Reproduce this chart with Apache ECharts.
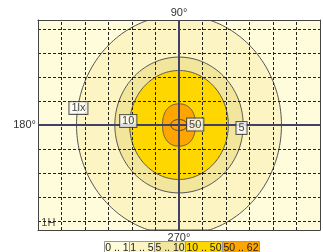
<!DOCTYPE html>
<html><head><meta charset="utf-8">
<script src="https://cdn.jsdelivr.net/npm/echarts@6/dist/echarts.min.js"></script>
<style>html,body{margin:0;padding:0;background:#fff}#c{width:323px;height:252px}</style>
</head><body><div id="c"></div>
<script>
// grid lines (grid cells)
const xGridLines = [-5, -4, -3, -2, -1, 1, 2, 3, 4, 5];
const yGridLines = [-4, -3, -2, -1, 1, 2, 3, 4];
// isolux contours: level (lx), semi-axes in grid cells, shape exponent
const contourLevels = [1, 5, 10, 50];
const contourSemiX = [4.36, 2.73, 2.10, 0.70];
const contourSemiY = [4.58, 2.83, 2.27, 0.88];
const contourExp = [2, 2, 2, 2.3];
// luminaire outline semi-axes
const lumSemi = [0.35, 0.23];
// contour labels
const labelTexts = ['1lx', '10', '50', '5'];
const labelX = [-4.28, -2.16, 0.69, 2.66];
const labelY = [0.71, 0.17, 0.02, -0.125];
// mounting height label
const heightText = '1H';
const heightPos = [-5.56, -4.08];
// direction labels
const dirTop = '90°', dirLeft = '180°', dirBottom = '270°';
// legend
const legendRanges = ['0 .. 1', '1 .. 5', '5 .. 10', '10 .. 50', '50 .. 62'];
const legendColors = ['#FFFCDC', '#FDF4C4', '#F2E69C', '#FFD700', '#FFA500'];

const FF = "'Liberation Sans Narrow', 'Liberation Sans', Arial, sans-serif";
const chart = echarts.init(document.getElementById('c'), null, {renderer: 'canvas'});

function shapePoints(api, sx, sy, e, coordSys) {
  const c = api.coord([0, 0]);
  const s = api.size([sx, sy]);
  const pts = [];
  const N = 200;
  for (let k = 0; k < N; k++) {
    const t = k / N * 2 * Math.PI;
    const ct = Math.cos(t), st = Math.sin(t);
    pts.push([c[0] + s[0] * Math.sign(ct) * Math.pow(Math.abs(ct), 2 / e),
              c[1] - s[1] * Math.sign(st) * Math.pow(Math.abs(st), 2 / e)]);
  }
  return echarts.graphic.clipPointsByRect(pts, coordSys);
}

// legend graphic
const LF = "10.5px 'Liberation Sans', Arial, sans-serif";
const widths = legendRanges.map(t => {
  const el = new echarts.graphic.Text({style: {text: t, font: LF}});
  return Math.round(el.getBoundingRect().width + 2);
});
const total = widths.reduce((a, b) => a + b, 0);
let lx = Math.round(181 - total / 2);
const legendEls = [];
legendRanges.forEach((t, i) => {
  legendEls.push({type: 'rect', shape: {x: lx + 0.5, y: 241.5, width: widths[i], height: 13},
    style: {fill: legendColors[i], stroke: '#999', lineWidth: 1}});
  legendEls.push({type: 'text', style: {text: t, x: lx + widths[i] / 2 + 0.5, y: 248.5, textAlign: 'center', textVerticalAlign: 'middle', font: LF, fill: '#222'}});
  lx += widths[i];
});

const axisLabelBase = {margin: 2, fontSize: 11, color: '#333', fontFamily: FF};
const option = {
  animation: false,
  grid: {left: 38, top: 20, width: 286, height: 210, show: true, backgroundColor: legendColors[0], borderWidth: 0},
  xAxis: [
    {type: 'value', min: -6, max: 6, interval: 1, position: 'bottom', z: 10,
     axisLine: {show: true, onZero: false, lineStyle: {color: '#444', width: 1}},
     axisTick: {show: false}, splitLine: {show: false},
     axisLabel: Object.assign({formatter: v => v === 0 ? dirBottom : ''}, axisLabelBase)},
    {type: 'value', min: -6, max: 6, interval: 1, position: 'top', z: 10,
     axisLine: {show: true, onZero: false, lineStyle: {color: '#444', width: 1}},
     axisTick: {show: false}, splitLine: {show: false},
     axisLabel: Object.assign({formatter: v => v === 0 ? dirTop : ''}, axisLabelBase)}
  ],
  yAxis: [
    {type: 'value', min: -4.375, max: 4.375, interval: 4.375, position: 'left', z: 10,
     axisLine: {show: true, onZero: false, lineStyle: {color: '#444', width: 1}},
     axisTick: {show: false}, splitLine: {show: false},
     axisLabel: Object.assign({formatter: v => v === 0 ? dirLeft : ''}, axisLabelBase)},
    {type: 'value', min: -4.375, max: 4.375, interval: 4.375, position: 'right', z: 10,
     axisLine: {show: true, onZero: false, lineStyle: {color: '#444', width: 1}},
     axisTick: {show: false}, splitLine: {show: false}, axisLabel: {show: false}}
  ],
  graphic: legendEls,
  series: [
    {type: 'custom', z: 2, clip: true,
     data: contourLevels.map((l, i) => [contourSemiX[i], contourSemiY[i], contourExp[i], i]),
     renderItem: (params, api) => {
       const i = api.value(3);
       return {type: 'polygon', shape: {points: shapePoints(api, api.value(0), api.value(1), api.value(2), params.coordSys)},
         style: {fill: legendColors[i + 1], stroke: '#555', lineWidth: 1}};
     }},
    {type: 'custom', z: 3, clip: true,
     data: [[lumSemi[0], lumSemi[1]]],
     renderItem: (params, api) => ({type: 'polygon',
       shape: {points: shapePoints(api, api.value(0), api.value(1), 2, params.coordSys)},
       style: {fill: 'none', stroke: '#333', lineWidth: 1}})},
    {type: 'line', data: [], z: 5,
     markLine: {silent: true, animation: false, symbol: ['none', 'none'], label: {show: false},
       lineStyle: {type: [3, 2], color: '#222', width: 1},
       data: xGridLines.map(v => ({xAxis: v})).concat(yGridLines.map(v => ({yAxis: v})))}},
    {type: 'line', data: [], z: 6,
     markLine: {silent: true, animation: false, symbol: ['none', 'none'], label: {show: false},
       lineStyle: {type: 'solid', color: '#404068', width: 2},
       data: [{xAxis: 0}, {yAxis: 0}]}},
    {type: 'scatter', z: 8, symbolSize: 1, itemStyle: {color: 'transparent'},
     data: labelX.map((x, i) => [x, labelY[i]]),
     label: {show: true, position: 'inside', formatter: p => labelTexts[p.dataIndex],
       backgroundColor: '#fff', borderColor: '#333', borderWidth: 1, padding: [1, 2, 0, 2],
       fontSize: 11, color: '#111', fontFamily: FF}},
    {type: 'scatter', z: 8, symbolSize: 1, itemStyle: {color: 'transparent'},
     data: [heightPos],
     label: {show: true, position: 'inside', formatter: heightText, fontSize: 11, color: '#222', fontFamily: FF}}
  ]
};
chart.setOption(option);
</script></body></html>
